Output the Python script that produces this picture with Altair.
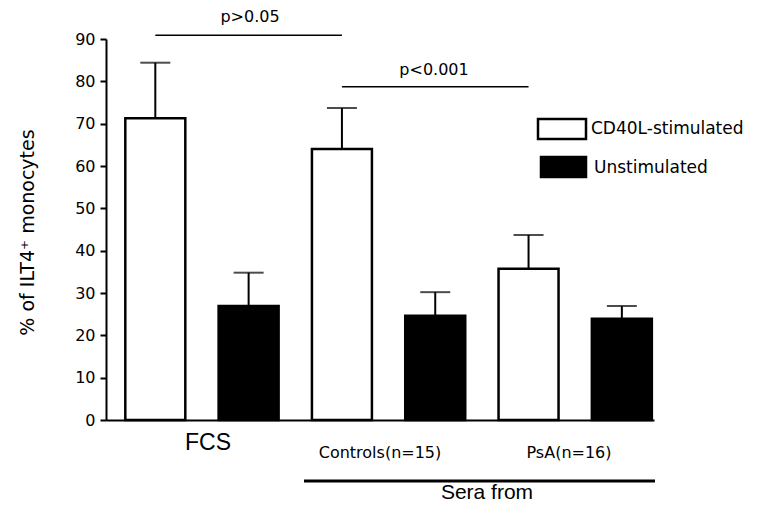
import altair as alt
import pandas as pd

groups = ["FCS", "Controls(n=15)", "PsA(n=16)"]
conditions = ["CD40L-stimulated", "Unstimulated"]
means = [71.3, 26.9, 64.0, 24.6, 35.7, 23.9]
upper = [84.4, 34.8, 73.7, 30.2, 43.7, 26.9]
y_ticks = [0, 10, 20, 30, 40, 50, 60, 70, 80, 90]
y_title = "% of ILT4\u207a monocytes"
sig_labels = ["p>0.05", "p<0.001"]
sig_line_y = [90.9, 78.7]
sig_text_y = [95.2, 82.6]
bracket_label = "Sera from"

keys, grp, cond = [], [], []
for g in groups:
    for c in conditions:
        keys.append(g + " | " + c)
        grp.append(g)
        cond.append(c)

df = pd.DataFrame({"key": keys, "group": grp, "cond": cond, "mean": means, "upper": upper})

FONT = "DejaVu Sans"

xscale = alt.Scale(domain=keys, paddingInner=0.357, paddingOuter=0.115, align=0.9)
yscale = alt.Scale(domain=[0, 90], nice=False, zero=True)

x_enc = alt.X("key:N", scale=xscale, sort=keys,
              axis=alt.Axis(labels=False, ticks=False, title=None, domainColor="black", domainWidth=2))
y_enc = alt.Y("mean:Q", scale=yscale,
              axis=alt.Axis(values=y_ticks, grid=False, domainColor="black", domainWidth=2,
                            tickColor="black", tickWidth=2, tickSize=6, labelFont=FONT,
                            labelFontSize=16, labelColor="black", labelPadding=5,
                            title=y_title, titleFont=FONT, titleFontSize=19,
                            titleFontWeight="normal", titleColor="black", titleAngle=270,
                            titleX=-79, titleY=193, titleAlign="center", titleBaseline="middle"))

base = alt.Chart(df)

bars = base.mark_bar(stroke="black", strokeWidth=2.5).encode(
    x=x_enc,
    y=y_enc,
    fill=alt.Fill("cond:N", scale=alt.Scale(domain=conditions, range=["white", "black"]), legend=None),
)

err = base.mark_rule(color="black", strokeWidth=2).encode(
    x=alt.X("key:N", scale=xscale, sort=keys),
    y=alt.Y("mean:Q", scale=yscale),
    y2="upper:Q",
)
caps = base.mark_tick(color="black", size=30, thickness=2).encode(
    x=alt.X("key:N", scale=xscale, sort=keys),
    y=alt.Y("upper:Q", scale=yscale),
)

sig_df = pd.DataFrame({
    "a": [keys[0], keys[2]],
    "b": [keys[2], keys[4]],
    "ly": sig_line_y,
    "ty": sig_text_y,
    "label": sig_labels,
    "tx": [144, 328],
})
sig_lines = alt.Chart(sig_df).mark_rule(color="black", strokeWidth=1.5).encode(
    x=alt.X("a:N", scale=xscale, sort=keys),
    x2="b:N",
    y=alt.Y("ly:Q", scale=yscale),
)
sig_text = alt.Chart(sig_df).mark_text(font=FONT, fontSize=16, color="black", baseline="middle").encode(
    x=alt.X("tx:Q", scale=None),
    y=alt.Y("ty:Q", scale=yscale),
    text="label:N",
)

# group labels under the axis
fcs_df = pd.DataFrame({"label": groups[:1], "lx": [102], "ly": [404]})
fcs_label = alt.Chart(fcs_df).mark_text(font="Liberation Sans", fontSize=23, color="black", baseline="middle").encode(
    x=alt.X("lx:Q", scale=None),
    y=alt.Y("ly:Q", scale=None),
    text="label:N",
)
sera_df = pd.DataFrame({"label": groups[1:], "lx": [274, 463], "ly": [414, 414]})
sera_labels = alt.Chart(sera_df).mark_text(font=FONT, fontSize=16, color="black", baseline="middle").encode(
    x=alt.X("lx:Q", scale=None),
    y=alt.Y("ly:Q", scale=None),
    text="label:N",
)

bracket = alt.Chart(pd.DataFrame({"t": [bracket_label]})).mark_rule(color="black", strokeWidth=3).encode(
    x=alt.value(198), x2=alt.value(549), y=alt.value(442)
)
bracket_text = alt.Chart(pd.DataFrame({"t": [bracket_label]})).mark_text(
    font="Liberation Sans", fontSize=21, color="black", baseline="middle").encode(
    x=alt.value(381), y=alt.value(454), text="t:N"
)

# manual legend
leg_df = pd.DataFrame({
    "cond": conditions,
    "x1": [432, 435], "x2": [480, 480],
    "y1": [80, 118], "y2": [100, 138],
    "tx": [485, 488], "ty": [90, 129],
})
leg_boxes = alt.Chart(leg_df).mark_rect(stroke="black", strokeWidth=2.5).encode(
    x=alt.X("x1:Q", scale=None), x2="x2:Q",
    y=alt.Y("y1:Q", scale=None), y2="y2:Q",
    fill=alt.Fill("cond:N", scale=alt.Scale(domain=conditions, range=["white", "black"]), legend=None),
)
leg_text = alt.Chart(leg_df).mark_text(font=FONT, fontSize=17, color="black", align="left", baseline="middle").encode(
    x=alt.X("tx:Q", scale=None),
    y=alt.Y("ty:Q", scale=None),
    text="cond:N",
)

chart = alt.layer(
    bars, err, caps, sig_lines, sig_text, fcs_label, sera_labels, bracket, bracket_text, leg_boxes, leg_text
).properties(
    width=548, height=381,
    autosize=alt.AutoSizeParams(type="none"),
    padding={"left": 98, "top": 31, "right": 100, "bottom": 84},
    background="white",
).configure_view(stroke=None)

chart.save("out.html", embed_options={"renderer": "svg", "actions": False})
